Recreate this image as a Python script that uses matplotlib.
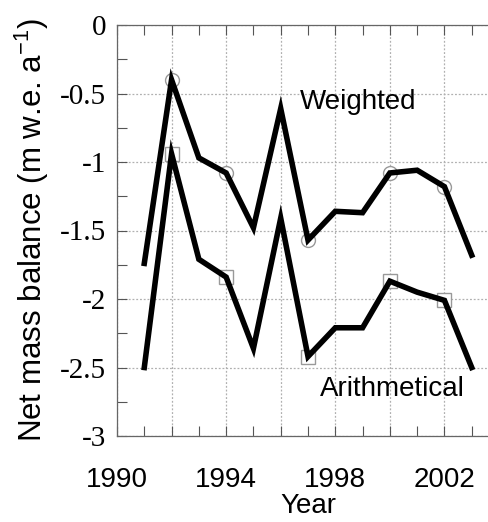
import matplotlib
matplotlib.use("Agg")
import matplotlib.pyplot as plt
from matplotlib.ticker import MultipleLocator

plt.rcParams['axes.unicode_minus'] = False
plt.rcParams['font.family'] = ['Liberation Sans', 'DejaVu Sans']
plt.rcParams['mathtext.fontset'] = 'custom'
plt.rcParams['mathtext.rm'] = 'Liberation Sans'

years = [1991, 1992, 1993, 1994, 1995, 1996, 1997, 1998, 1999, 2000, 2001, 2002, 2003]
weighted = [-1.74, -0.40, -0.97, -1.08, -1.48, -0.61, -1.57, -1.36, -1.37, -1.08, -1.06, -1.18, -1.68]
arithmetical = [-2.50, -0.94, -1.71, -1.84, -2.36, -1.41, -2.42, -2.21, -2.21, -1.87, -1.95, -2.01, -2.50]
marker_years = [1992, 1994, 1997, 2000, 2002]
series_labels = ["Weighted", "Arithmetical"]
x_ticks = [1990, 1992, 1994, 1996, 1998, 2000, 2002]
x_tick_labels = ["1990", "", "1994", "", "1998", "", "2002"]
y_ticks = [0, -0.5, -1, -1.5, -2, -2.5, -3]
y_tick_labels = ["0", "-0.5", "-1", "-1.5", "-2", "-2.5", "-3"]
x_label = "Year"
y_label = "Net mass balance (m w.e. a$^{\\mathrm{-1}}$)"

fig = plt.figure(figsize=(4.88, 5.22), dpi=100)
ax = fig.add_axes([117/488, 1-436/522, (499-117)/488, (436-25)/522])

mw = [weighted[years.index(y)] for y in marker_years]
ma = [arithmetical[years.index(y)] for y in marker_years]
ax.plot(marker_years, mw, linestyle='none', marker='o', ms=10, mfc='white',
        mec='#999999', mew=1.0, zorder=2)
ax.plot(marker_years, ma, linestyle='none', marker='s', ms=10, mfc='white',
        mec='#999999', mew=1.0, zorder=2)
ax.plot(years, weighted, color='black', lw=4.0, solid_joinstyle='miter', zorder=3)
ax.plot(years, arithmetical, color='black', lw=4.0, solid_joinstyle='miter', zorder=3)

ax.text(1998.83, -0.56, series_labels[0], fontsize=20, ha='center', va='center')
ax.text(2000.1, -2.66, series_labels[1], fontsize=20, ha='center', va='center')

ax.set_xlim(1990, 2004)
ax.set_ylim(-3, 0)

ax.set_xticks(x_ticks, x_tick_labels, fontsize=20)
ax.xaxis.set_minor_locator(MultipleLocator(1))
ax.set_yticks(y_ticks, y_tick_labels, fontsize=21, fontfamily='Liberation Serif')
ax.yaxis.set_minor_locator(MultipleLocator(0.25))

ax.tick_params(which='both', direction='in', top=True, right=True, color='#555555', width=0.8)
ax.tick_params(which='major', length=7)
ax.tick_params(which='minor', length=7)
ax.tick_params(axis='x', which='major', pad=22)
ax.tick_params(axis='y', which='major', pad=8)

ax.grid(True, which='major', linestyle=(0, (1.5, 1.5)), color='#b0b0b0', lw=0.9)
for s in ax.spines.values():
    s.set_color('#666666')
    s.set_linewidth(0.9)

ax.set_xlabel(x_label, fontsize=20, labelpad=0)
ax.set_ylabel(y_label, fontsize=22.5, labelpad=6)

fig.savefig("out.png", dpi=100)
